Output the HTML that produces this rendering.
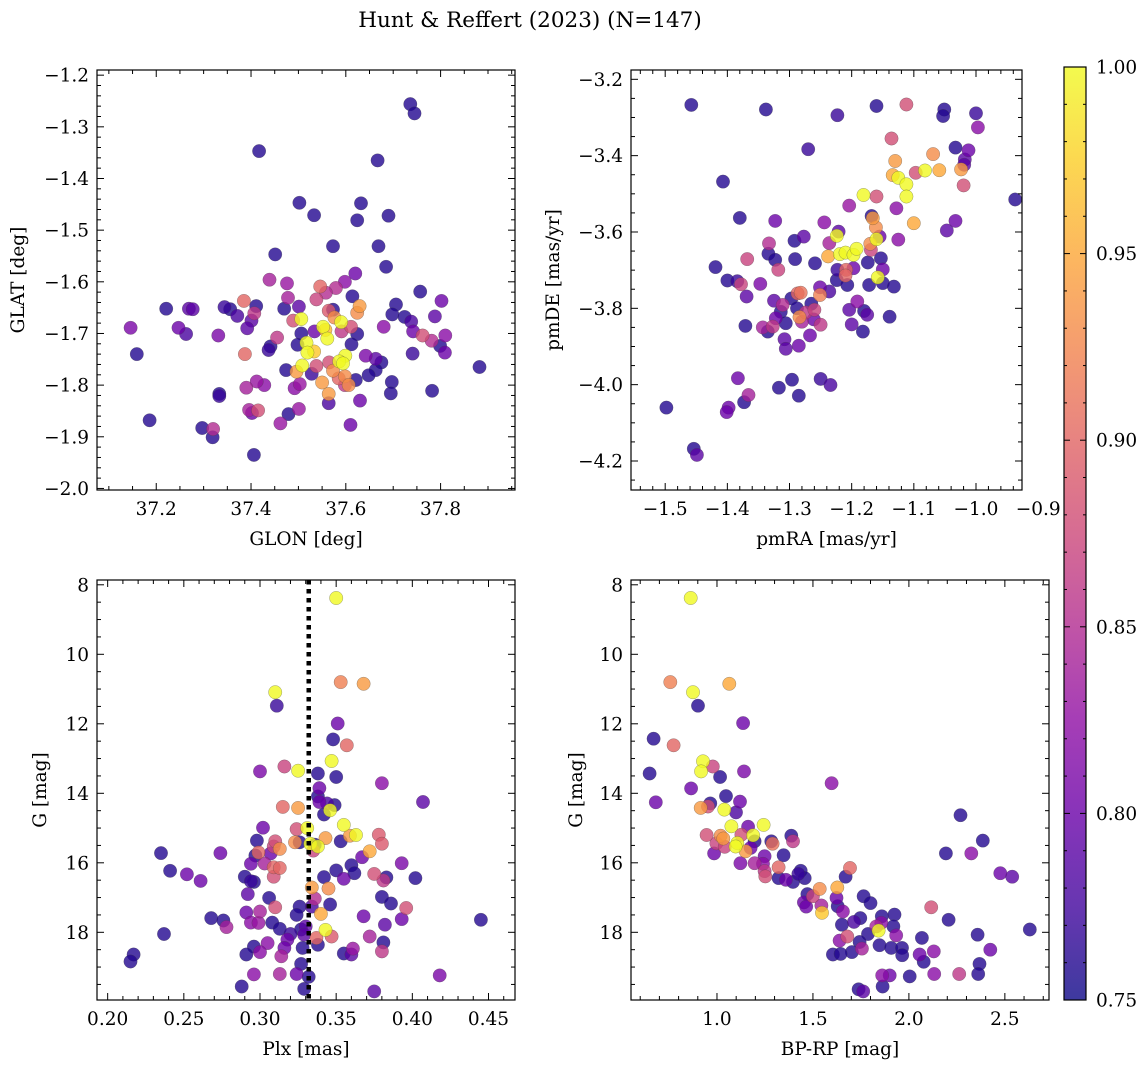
<!DOCTYPE html>
<html><head><meta charset="utf-8"><style>
html,body{margin:0;padding:0;background:#fff;}
svg{display:block;font-family:"DejaVu Serif","Liberation Serif",serif;}
</style></head><body>
<svg id="fig" width="1148" height="1067" viewBox="0 0 1148 1067" xmlns="http://www.w3.org/2000/svg">
<text x="530" y="27" text-anchor="middle" font-size="21.5">Hunt &amp; Reffert (2023) (N=147)</text>
</svg>
<script>
// ---- data: GLON/GLAT panel
const glon=[37.736,37.745,37.417,37.667,37.502,37.632,37.533,37.624,37.690,37.573,37.669,37.451,37.685,37.620,37.439,37.476,37.598,37.546,37.579,37.558,37.538,37.478,37.614,37.757,37.802,37.221,37.269,37.277,37.344,37.356,37.385,37.411,37.407,37.470,37.501,37.371,37.401,37.392,37.146,37.247,37.263,37.331,37.159,37.629,37.624,37.564,37.573,37.576,37.590,37.506,37.489,37.552,37.557,37.561,37.611,37.591,37.534,37.506,37.624,37.680,37.706,37.698,37.724,37.738,37.742,37.762,37.788,37.781,37.810,37.799,37.809,37.741,37.882,37.455,37.441,37.437,37.498,37.517,37.519,37.533,37.612,37.599,37.586,37.594,37.565,37.642,37.663,37.675,37.663,37.648,37.387,37.508,37.496,37.474,37.528,37.538,37.573,37.585,37.598,37.606,37.598,37.621,37.550,37.564,37.564,37.697,37.695,37.782,37.630,37.610,37.390,37.412,37.428,37.492,37.503,37.333,37.333,37.396,37.402,37.415,37.479,37.501,37.462,37.186,37.297,37.320,37.319,37.406];
const glat=[-1.256,-1.274,-1.347,-1.365,-1.447,-1.448,-1.471,-1.481,-1.472,-1.531,-1.531,-1.547,-1.571,-1.584,-1.596,-1.603,-1.600,-1.609,-1.612,-1.621,-1.634,-1.631,-1.628,-1.619,-1.637,-1.652,-1.652,-1.653,-1.649,-1.653,-1.637,-1.647,-1.661,-1.652,-1.648,-1.666,-1.675,-1.690,-1.689,-1.689,-1.701,-1.704,-1.740,-1.647,-1.660,-1.656,-1.654,-1.669,-1.678,-1.672,-1.675,-1.687,-1.693,-1.710,-1.687,-1.696,-1.696,-1.700,-1.701,-1.687,-1.644,-1.663,-1.668,-1.677,-1.696,-1.704,-1.667,-1.714,-1.704,-1.724,-1.737,-1.739,-1.765,-1.708,-1.725,-1.732,-1.722,-1.718,-1.737,-1.735,-1.721,-1.743,-1.754,-1.758,-1.756,-1.743,-1.749,-1.756,-1.771,-1.781,-1.740,-1.762,-1.774,-1.771,-1.778,-1.763,-1.772,-1.787,-1.783,-1.800,-1.800,-1.790,-1.795,-1.817,-1.835,-1.794,-1.816,-1.811,-1.830,-1.877,-1.805,-1.793,-1.800,-1.806,-1.798,-1.817,-1.821,-1.848,-1.854,-1.849,-1.856,-1.846,-1.874,-1.868,-1.883,-1.885,-1.901,-1.935];
const probTL=[.76,.76,.76,.76,.76,.76,.76,.76,.76,.76,.76,.76,.76,.80,.84,.83,.82,.90,.85,.85,.87,.84,.76,.76,.80,.76,.79,.79,.77,.76,.90,.76,.86,.76,.79,.78,.79,.79,.81,.80,.78,.81,.76,.94,.93,.89,.76,.93,1.0,1.0,.88,1.0,.96,1.0,.88,.86,.80,.76,.76,.82,.76,.76,.76,.78,.80,.88,.79,.85,.82,.76,.80,.77,.76,.86,.76,.77,.76,1.0,1.0,.97,.76,1.0,1.0,1.0,.88,.81,.79,.76,.76,.76,.90,1.0,.94,.76,.77,.88,.93,.90,.93,.93,.86,.76,.94,.94,.78,.76,.76,.76,.80,.80,.84,.83,.82,.82,.83,.76,.77,.84,.80,.88,.76,.83,.83,.76,.76,.85,.76,.76];
// ---- data: proper motion panel
const pmra=[-1.458,-1.338,-1.223,-1.160,-1.112,-1.051,-1.053,-1.000,-0.997,-1.270,-1.136,-1.130,-1.069,-1.033,-1.012,-1.018,-1.019,-1.024,-1.020,-1.097,-1.082,-1.059,-1.134,-1.125,-1.112,-1.112,-1.181,-1.160,-0.937,-1.407,-1.204,-1.128,-1.380,-1.323,-1.244,-1.168,-1.166,-1.161,-1.033,-1.047,-1.100,-1.125,-1.160,-1.155,-1.221,-1.224,-1.236,-1.238,-1.219,-1.210,-1.197,-1.192,-1.170,-1.169,-1.153,-1.174,-1.158,-1.150,-1.197,-1.209,-1.210,-1.223,-1.224,-1.207,-1.172,-1.150,-1.132,-1.191,-1.180,-1.175,-1.204,-1.200,-1.182,-1.139,-1.292,-1.277,-1.259,-1.333,-1.334,-1.323,-1.291,-1.368,-1.318,-1.419,-1.400,-1.384,-1.378,-1.347,-1.369,-1.251,-1.236,-1.251,-1.287,-1.282,-1.297,-1.288,-1.265,-1.260,-1.274,-1.284,-1.280,-1.261,-1.250,-1.267,-1.311,-1.325,-1.314,-1.322,-1.306,-1.343,-1.327,-1.335,-1.308,-1.306,-1.285,-1.371,-1.383,-1.366,-1.373,-1.398,-1.401,-1.317,-1.296,-1.285,-1.250,-1.234,-1.498,-1.454,-1.449];
const pmde=[-3.267,-3.279,-3.294,-3.270,-3.266,-3.279,-3.296,-3.289,-3.326,-3.383,-3.355,-3.414,-3.396,-3.379,-3.386,-3.410,-3.424,-3.436,-3.478,-3.445,-3.439,-3.438,-3.451,-3.458,-3.475,-3.507,-3.503,-3.507,-3.515,-3.468,-3.531,-3.538,-3.563,-3.571,-3.575,-3.558,-3.564,-3.588,-3.571,-3.596,-3.577,-3.620,-3.619,-3.612,-3.599,-3.610,-3.629,-3.664,-3.658,-3.654,-3.660,-3.644,-3.631,-3.647,-3.669,-3.680,-3.719,-3.698,-3.695,-3.699,-3.714,-3.699,-3.726,-3.739,-3.739,-3.734,-3.743,-3.782,-3.807,-3.817,-3.804,-3.842,-3.861,-3.822,-3.623,-3.612,-3.682,-3.630,-3.657,-3.673,-3.671,-3.671,-3.699,-3.692,-3.727,-3.729,-3.737,-3.736,-3.769,-3.745,-3.756,-3.765,-3.761,-3.759,-3.774,-3.800,-3.788,-3.804,-3.811,-3.823,-3.835,-3.829,-3.843,-3.871,-3.791,-3.780,-3.809,-3.826,-3.839,-3.850,-3.848,-3.861,-3.881,-3.906,-3.898,-3.846,-3.983,-4.027,-4.046,-4.060,-4.072,-4.008,-3.987,-4.029,-3.985,-4.001,-4.060,-4.168,-4.184];
const probTR=[.76,.76,.77,.76,.88,.76,.76,.77,.82,.77,.88,.94,.93,.76,.80,.79,.79,.94,.88,.88,1.0,.95,.95,1.0,1.0,1.0,1.0,.88,.76,.76,.83,.82,.76,.80,.82,.76,.94,.93,.80,.79,.95,.82,1.0,.80,.79,1.0,.84,.95,1.0,1.0,1.0,1.0,.93,.87,.76,.76,1.0,.80,.80,.90,.90,.77,.76,.76,.76,.76,.76,.82,.76,.79,.79,.79,.76,.76,.76,.79,.76,.85,.76,.76,.76,.87,.87,.76,.76,.77,.87,.81,.79,.80,.78,.92,.90,.91,.76,.76,.76,.87,.86,.93,.84,.80,.86,.80,.85,.79,.76,.80,.76,.84,.86,.76,.79,.79,.80,.76,.80,.84,.76,.80,.80,.76,.76,.76,.77,.78,.76,.76,.79];
// ---- data: parallax vs G panel
const plx=[0.350,0.353,0.368,0.310,0.311,0.351,0.348,0.357,0.347,0.300,0.316,0.325,0.338,0.350,0.380,0.407,0.339,0.338,0.339,0.344,0.349,0.346,0.342,0.315,0.325,0.302,0.331,0.355,0.324,0.359,0.363,0.343,0.353,0.333,0.338,0.336,0.335,0.323,0.326,0.310,0.298,0.309,0.313,0.299,0.297,0.307,0.378,0.380,0.372,0.367,0.235,0.274,0.294,0.303,0.241,0.252,0.261,0.309,0.313,0.309,0.290,0.294,0.296,0.350,0.360,0.362,0.355,0.342,0.375,0.383,0.381,0.393,0.402,0.334,0.345,0.336,0.292,0.306,0.310,0.326,0.334,0.340,0.346,0.380,0.386,0.396,0.393,0.382,0.368,0.445,0.291,0.300,0.294,0.299,0.268,0.276,0.278,0.308,0.313,0.324,0.327,0.320,0.330,0.329,0.318,0.337,0.338,0.343,0.347,0.372,0.381,0.380,0.361,0.355,0.360,0.328,0.316,0.314,0.305,0.300,0.296,0.291,0.237,0.217,0.215,0.327,0.324,0.313,0.296,0.332,0.329,0.288,0.418,0.375];
const gPlx=[8.38,10.80,10.85,11.09,11.48,11.99,12.45,12.62,13.07,13.37,13.23,13.35,13.43,13.53,13.71,14.25,13.85,14.09,14.25,14.29,14.34,14.49,14.61,14.39,14.42,14.99,15.00,14.91,15.03,15.22,15.20,15.29,15.38,15.45,15.53,15.48,15.65,15.41,15.41,15.38,15.36,15.53,15.60,15.70,15.79,15.73,15.19,15.45,15.67,15.84,15.72,15.72,16.03,16.02,16.23,16.33,16.52,16.13,16.15,16.40,16.40,16.53,16.55,16.22,16.07,16.30,16.46,16.41,16.32,16.42,16.51,16.01,16.44,16.71,16.74,17.03,16.90,17.01,17.28,17.26,17.26,17.47,17.20,16.98,17.17,17.30,17.62,17.78,17.54,17.64,17.43,17.40,17.72,17.73,17.59,17.66,17.85,17.72,17.90,17.50,17.92,18.05,17.83,18.07,18.21,18.16,18.36,17.93,18.12,18.12,18.29,18.55,18.47,18.61,18.64,18.45,18.45,18.69,18.31,18.57,18.41,18.64,18.05,18.64,18.84,18.91,19.20,19.20,19.21,19.28,19.63,19.56,19.24,19.70];
const probBL=[1.0,.92,.94,1.0,.77,.80,.76,.90,1.0,.81,.87,1.0,.76,.76,.82,.79,.80,.76,.80,.78,.76,1.0,.76,.90,.94,.80,1.0,1.0,.88,.94,1.0,.94,.76,1.0,1.0,.76,.87,.93,.76,.88,.76,.87,.93,.90,.76,.80,.89,.89,.95,.80,.76,.80,.80,.84,.76,.80,.80,.90,.90,.88,.76,.77,.76,.76,.76,.76,.80,.76,.88,.76,.86,.81,.76,.94,.93,.85,.79,.76,.88,.76,.78,.95,.76,.76,.76,.88,.80,.79,.80,.76,.80,.84,.82,.83,.76,.76,.84,.76,.76,.76,.76,.77,.79,.79,.80,.90,.76,1.0,.89,.84,.76,.86,.83,.76,.79,.76,.80,.84,.82,.82,.76,.76,.76,.76,.76,.76,.80,.84,.82,.76,.76,.76,.81,.79];
// ---- data: colour-magnitude panel
const bprp=[0.863,0.757,1.064,0.875,0.901,1.136,0.670,0.774,0.927,0.978,0.917,1.141,0.649,1.016,1.597,0.865,0.681,1.047,1.120,1.099,0.965,0.953,0.915,1.038,2.269,1.075,1.243,1.162,0.946,1.019,1.033,1.188,1.127,0.997,1.106,1.097,1.149,1.040,1.196,1.175,0.985,1.283,1.290,1.387,1.396,1.347,1.248,1.122,1.196,1.240,1.248,1.252,1.321,2.193,2.325,2.385,2.476,2.538,1.693,1.670,1.436,1.424,1.457,1.321,1.359,1.396,1.535,1.627,1.471,1.500,1.453,1.465,1.544,1.547,1.623,1.629,1.656,1.764,1.800,2.116,1.747,1.859,1.925,1.651,1.714,1.830,1.856,1.842,1.787,1.919,1.934,1.679,1.639,1.743,1.755,1.703,1.604,1.644,1.847,1.908,1.964,1.965,2.056,2.077,2.068,2.130,2.207,2.358,2.424,2.630,2.368,2.361,2.262,2.132,2.004,1.861,1.900,1.863,1.738,1.762];
const gCmd=[8.38,10.80,10.85,11.09,11.48,11.98,12.43,12.62,13.08,13.23,13.37,13.37,13.43,13.53,13.71,13.86,14.26,14.08,14.24,14.55,14.29,14.38,14.42,14.47,14.63,14.95,14.91,14.96,15.20,15.22,15.30,15.21,15.19,15.44,15.43,15.53,15.67,15.54,15.38,15.57,15.73,15.38,15.45,15.22,15.38,15.78,15.81,16.01,16.01,16.03,16.24,16.39,16.13,15.73,15.73,15.36,16.30,16.40,16.15,16.40,16.23,16.32,16.44,16.44,16.49,16.55,16.75,16.71,16.90,16.96,17.14,17.26,17.23,17.44,17.01,17.25,17.40,16.96,17.16,17.28,17.59,17.54,17.49,17.78,17.70,17.83,17.73,17.95,18.05,17.83,18.09,18.12,18.24,18.28,18.47,18.57,18.64,18.62,18.37,18.45,18.45,18.66,18.64,18.85,18.16,18.55,17.64,18.07,18.50,17.92,18.91,19.20,19.20,19.20,19.27,19.24,19.24,19.56,19.64,19.70];
const probBR=[1.0,.92,.95,1.0,.76,.80,.76,.90,1.0,.87,1.0,.81,.76,.76,.82,.80,.80,.76,.80,.78,.76,.88,.94,1.0,.76,1.0,1.0,.80,.88,.93,.94,1.0,.88,.87,1.0,1.0,.94,.87,.76,.80,.80,.76,.91,.76,.86,.76,.80,.81,.84,.82,.86,.88,.90,.76,.82,.76,.80,.79,.90,.76,.76,.77,.76,.76,.80,.76,.93,.95,.76,.87,.80,.80,.84,.97,.80,.76,.82,.76,.76,.88,.76,.76,.76,.76,.78,.84,.82,1.0,.76,.76,.82,.88,.82,.76,.84,.76,.76,.76,.76,.76,.76,.76,.80,.76,.76,.82,.76,.76,.80,.76,.76,.76,.86,.82,.76,.82,.80,.76,.76,.79];
// colorbar ticks
const cbarTicks=[0.75,0.80,0.85,0.90,0.95,1.00];

const NS='http://www.w3.org/2000/svg';
const fig=document.getElementById('fig');
const FS=18.5;
function el(tag,attrs,parent){const e=document.createElementNS(NS,tag);for(const k in attrs)e.setAttribute(k,attrs[k]);(parent||fig).appendChild(e);return e;}
const plasma=[[13,8,135],[65,4,157],[106,0,168],[143,13,164],[177,42,144],[204,71,120],[225,100,98],[242,132,75],[252,166,54],[252,206,37],[240,249,33]];
function cmap(v){let t=Math.max(0,Math.min(1,(v-0.75)/0.25))*10;const i=Math.min(9,Math.floor(t)),f=t-i;const a=plasma[i],b=plasma[i+1];return 'rgb('+[0,1,2].map(k=>Math.round(a[k]+(b[k]-a[k])*f)).join(',')+')';}
function fmtNum(v,d){const s=Math.abs(v).toFixed(d);return (v<-1e-9?'\u2212':'')+s;}
function ticksIn(lo,hi,step){const a=Math.min(lo,hi),b=Math.max(lo,hi);const out=[];for(let k=Math.ceil(a/step-1e-6);k<=Math.floor(b/step+1e-6);k++)out.push(+(k*step).toFixed(6));return out;}

function panel(cfg){
  const g=el('g',{});
  
  
  const sx=v=>cfg.x0+(v-cfg.xd[0])/(cfg.xd[1]-cfg.xd[0])*(cfg.x1-cfg.x0);
  const sy=v=>cfg.y0+(v-cfg.yd[0])/(cfg.yd[1]-cfg.yd[0])*(cfg.y1-cfg.y0);
  const clip='clip-'+cfg.name;
  const cp=el('clipPath',{id:clip},g);el('rect',{x:cfg.x0,y:cfg.y0,width:cfg.x1-cfg.x0,height:cfg.y1-cfg.y0},cp);
  const pts=el('g',{'clip-path':'url(#'+clip+')'},g);
  
  
  const idx=cfg.xs.map((_,i)=>i).sort((a,b)=>cfg.cs[a]-cfg.cs[b]);
  idx.forEach(i=>{
    const c=el('circle',{cx:sx(cfg.xs[i]).toFixed(1),cy:sy(cfg.ys[i]).toFixed(1),r:6.7,fill:cmap(cfg.cs[i]),'fill-opacity':0.8,stroke:'#444','stroke-opacity':0.5,'stroke-width':0.5},pts);
    
    
  });
  if(cfg.vline!==undefined){
    const l=el('line',{x1:sx(cfg.vline),x2:sx(cfg.vline),y1:cfg.y0,y2:cfg.y1,stroke:'#000','stroke-width':4.5,'stroke-dasharray':'4.5,4.5'},g);
    
    
  }
  const tk=el('g',{stroke:'#000','stroke-width':1},g);
  
  
  const maj=ticksIn(cfg.xd[0],cfg.xd[1],cfg.xmaj), majY=ticksIn(cfg.yd[0],cfg.yd[1],cfg.ymaj);
  ticksIn(cfg.xd[0],cfg.xd[1],cfg.xmin).forEach(v=>{const x=sx(v);const L=maj.some(m=>Math.abs(m-v)<1e-6)?7:4;
    el('line',{x1:x,x2:x,y1:cfg.y1,y2:cfg.y1-L},tk);el('line',{x1:x,x2:x,y1:cfg.y0,y2:cfg.y0+L},tk);});
  ticksIn(cfg.yd[0],cfg.yd[1],cfg.ymin).forEach(v=>{const y=sy(v);const L=majY.some(m=>Math.abs(m-v)<1e-6)?7:4;
    el('line',{x1:cfg.x0,x2:cfg.x0+L,y1:y,y2:y},tk);el('line',{x1:cfg.x1,x2:cfg.x1-L,y1:y,y2:y},tk);});
  const xl=el('g',{'font-size':FS,'text-anchor':'middle'},g);
  
  
  maj.concat(cfg.xextra||[]).forEach(v=>{const t=el('text',{x:sx(v),y:cfg.y1+25},xl);t.textContent=fmtNum(v,cfg.xdec);});
  const yl=el('g',{'font-size':FS,'text-anchor':'end'},g);
  
  
  majY.forEach(v=>{const t=el('text',{x:cfg.x0-8,y:sy(v)+6.5},yl);t.textContent=fmtNum(v,cfg.ydec);});
  el('rect',{x:cfg.x0,y:cfg.y0,width:cfg.x1-cfg.x0,height:cfg.y1-cfg.y0,fill:'none',stroke:'#000','stroke-width':1.2},g);
  const xt=el('text',{x:(cfg.x0+cfg.x1)/2,y:cfg.y1+55,'font-size':FS,'text-anchor':'middle'},g);
  xt.textContent=cfg.xlabel;
  
  
  const yx=cfg.ytx, yy=(cfg.y0+cfg.y1)/2;
  const yt=el('text',{x:yx,y:yy,'font-size':FS,'text-anchor':'middle',transform:'rotate(-90 '+yx+' '+yy+')'},g);
  yt.textContent=cfg.ylabel;
  
  
}

panel({name:'panel-glon-glat',x0:97,x1:515,y0:70,y1:490,xd:[37.075,37.957],yd:[-1.190,-2.003],xs:glon,ys:glat,cs:probTL,xmaj:0.2,xmin:0.05,ymaj:0.1,ymin:0.02,xdec:1,ydec:1,xlabel:'GLON [deg]',ylabel:'GLAT [deg]',ytx:24});
panel({name:'panel-pmra-pmde',x0:631,x1:1022,y0:70,y1:490,xd:[-1.555,-0.926],yd:[-3.1756,-4.276],xs:pmra,ys:pmde,cs:probTR,xmaj:0.1,xmin:0.02,ymaj:0.2,ymin:0.05,xdec:1,ydec:1,xextra:[-0.9],xlabel:'pmRA [mas/yr]',ylabel:'pmDE [mas/yr]',ytx:559});
panel({name:'panel-plx-g',x0:97,x1:515,y0:580,y1:1000,xd:[0.193,0.4674],yd:[7.862,19.948],xs:plx,ys:gPlx,cs:probBL,xmaj:0.05,xmin:0.01,ymaj:2,ymin:0.5,xdec:2,ydec:0,vline:0.332,xlabel:'Plx [mas]',ylabel:'G [mag]',ytx:46});
panel({name:'panel-cmd',x0:631,x1:1049,y0:580,y1:1000,xd:[0.552,2.730],yd:[7.862,19.948],xs:bprp,ys:gCmd,cs:probBR,xmaj:0.5,xmin:0.1,ymaj:2,ymin:0.5,xdec:1,ydec:0,xlabel:'BP-RP [mag]',ylabel:'G [mag]',ytx:582});

// colorbar
(function(){
  const x0=1064,x1=1086,y0=67,y1=1000;
  const g=el('g',{});
  
  
  const defs=el('defs',{},g);
  const lg=el('linearGradient',{id:'plasmaGrad',x1:0,y1:1,x2:0,y2:0},defs);
  for(let i=0;i<=20;i++){el('stop',{offset:(i/20),'stop-color':cmap(0.75+0.25*i/20)},lg);}
  el('rect',{x:x0,y:y0,width:x1-x0,height:y1-y0,fill:'url(#plasmaGrad)','fill-opacity':0.8},g);
  const sy=v=>y1-(v-0.75)/0.25*(y1-y0);
  for(let k=75;k<=100;k++){const y=sy(k/100);const L=(k%5===0)?6:3;
    el('line',{x1:x0,x2:x0+L,y1:y,y2:y,stroke:'#000'},g);el('line',{x1:x1,x2:x1-L,y1:y,y2:y,stroke:'#000'},g);}
  el('rect',{x:x0,y:y0,width:x1-x0,height:y1-y0,fill:'none',stroke:'#000','stroke-width':1.2},g);
  cbarTicks.forEach(v=>{const t=el('text',{x:x1+10,y:sy(v)+6.5,'font-size':FS},g);t.textContent=v.toFixed(2);
    
    });
})();
</script>
</body></html>
